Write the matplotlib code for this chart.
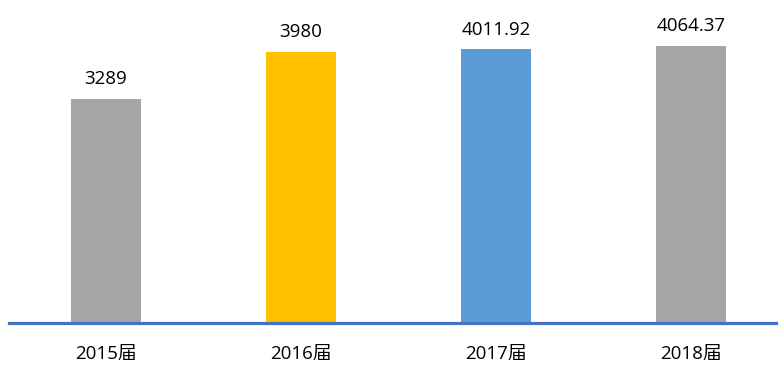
import matplotlib
matplotlib.use("Agg")
import matplotlib.pyplot as plt

categories = ["2015届", "2016届", "2017届", "2018届"]
values = [3289, 3980, 4011.92, 4064.37]
value_labels = ["3289", "3980", "4011.92", "4064.37"]
colors = ["#A5A5A5", "#FFC000", "#5B9BD5", "#A5A5A5"]

plt.rcParams["font.family"] = ["Open Sans", "Noto Sans CJK SC", "DejaVu Sans"]

W, H = 779, 365
fig = plt.figure(figsize=(W / 100, H / 100), dpi=100)
ax = fig.add_axes([9 / W, (H - 323) / H, 767 / W, 323 / H])

x = list(range(len(categories)))
ax.bar(x, values, width=0.36, color=colors, zorder=2)

for xi, v, lab in zip(x, values, value_labels):
    ax.annotate(lab, (xi, v), xytext=(0, 7.5), textcoords="offset points",
                ha="center", va="bottom", fontsize=13.5, color="#000000")

ax.set_xlim(-0.497, 3.436)
ax.set_ylim(0, 4736)
ax.set_xticks(x)
ax.set_xticklabels(categories, fontsize=13.5)
ax.tick_params(axis="x", length=0, pad=16)
ax.set_yticks([])

for side in ["top", "right", "left"]:
    ax.spines[side].set_visible(False)
ax.spines["bottom"].set_color("#4472C4")
ax.spines["bottom"].set_linewidth(2.3)
ax.spines["bottom"].set_zorder(3)

fig.savefig("out.png", dpi=100, facecolor="white")
